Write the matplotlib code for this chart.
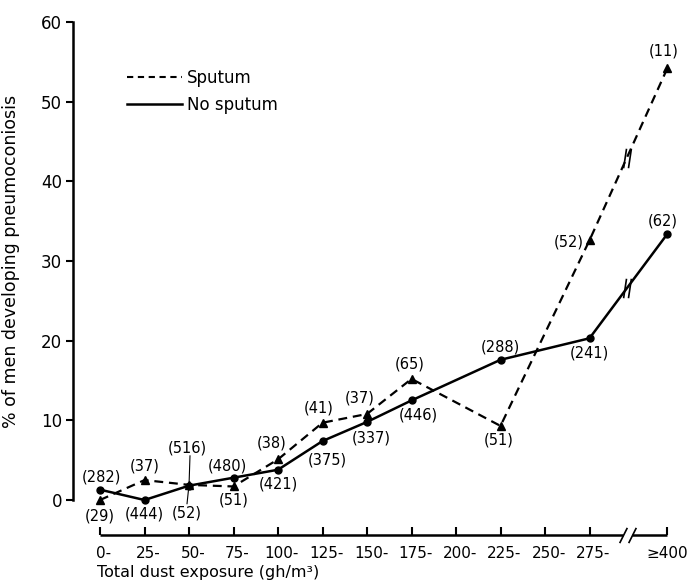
import matplotlib

matplotlib.use("Agg")
import matplotlib.pyplot as plt
import matplotlib.transforms as mtransforms
import numpy as np
from matplotlib.lines import Line2D
from matplotlib.path import Path

# categories of total dust exposure (gh/m3)
categories = ["0-", "25-", "50-", "75-", "100-", "125-", "150-", "175-",
              "200-", "225-", "250-", "275-", "\u2265400"]
# plotting positions; the last group sits past an axis break
positions = [0, 1, 2, 3, 4, 5, 6, 7, 8, 9, 10, 11, 12.75]
break_at = 11.84

# groups that have data points
sputum_idx = [0, 1, 2, 3, 4, 5, 6, 7, 9, 11, 12]
sputum_pct = [0.0, 2.5, 1.9, 1.7, 5.1, 9.7, 10.8, 15.2, 9.3, 32.6, 54.2]
sputum_n = [29, 37, 52, 51, 38, 41, 37, 65, 51, 52, 11]

nosputum_idx = [0, 1, 2, 3, 4, 5, 6, 7, 9, 11, 12]
nosputum_pct = [1.3, 0.0, 1.8, 2.8, 3.8, 7.4, 9.8, 12.5, 17.6, 20.3, 33.4]
nosputum_n = [282, 444, 516, 480, 421, 375, 337, 446, 288, 241, 62]

# label offsets in pixels (dx, dy)
sputum_off = [(0, -16), (0, 14), (-2, -28), (0, -14), (-6, 16), (-4, 15),
              (-7, 16), (-2, 15), (-2, -14), (-21, -2), (-4, 17)]
nosputum_off = [(1, 13), (0, -14), (-2, 38), (-6, 12), (0, -14), (5, -19),
                (4, -16), (7, -15), (0, 13), (0, -15), (-5, 13)]

plt.rcParams["font.family"] = ["DejaVu Sans"]

W, H = 688, 582
fig = plt.figure(figsize=(W / 100, H / 100), dpi=100)
px_left, px_right, px_bottom, px_top = 73, 684, 535, 22
ax = fig.add_axes([px_left / W, 1 - px_bottom / H,
                   (px_right - px_left) / W, (px_bottom - px_top) / H])

unit = 44.5  # px per category
ymin = -(px_bottom - 500) / 7.97
ax.set_xlim(-(100 - px_left) / unit, (px_right - 100) / unit)
ax.set_ylim(ymin, 60)

xs = [positions[i] for i in sputum_idx]
xn = [positions[i] for i in nosputum_idx]

ax.plot(xs, sputum_pct, color="black", lw=1.6, ls=(0, (4, 2.6)),
        marker="^", ms=6, zorder=3)
ax.plot(xn, nosputum_pct, color="black", lw=1.8, ls="-",
        marker="o", ms=5, zorder=3)

# break marks on the lines
slash = Path([(-0.4, -1), (-0.1, 1), (0.1, -1), (0.4, 1)],
             [Path.MOVETO, Path.LINETO, Path.MOVETO, Path.LINETO])
for xx, yy in ((xs, sputum_pct), (xn, nosputum_pct)):
    yb = np.interp(break_at, xx, yy)
    ax.plot([break_at], [yb], marker=slash, ms=14, mew=1.2, color="black",
            ls="none", zorder=4)

for x, y, n, (dx, dy) in zip(xs, sputum_pct, sputum_n, sputum_off):
    ax.annotate(f"({n})", (x, y), xytext=(dx, dy), textcoords="offset pixels",
                ha="center", va="center", fontsize=10.5)
for x, y, n, (dx, dy) in zip(xn, nosputum_pct, nosputum_n, nosputum_off):
    ax.annotate(f"({n})", (x, y), xytext=(dx, dy), textcoords="offset pixels",
                ha="center", va="center", fontsize=10.5)

# leader lines for the crowded labels at 50-
ax.annotate("", (xn[2], nosputum_pct[2]), xytext=(1, 30),
            textcoords="offset pixels",
            arrowprops=dict(arrowstyle="-", lw=0.8, color="black",
                            shrinkA=0, shrinkB=2))
ax.annotate("", (xs[2], sputum_pct[2]), xytext=(-2, -19),
            textcoords="offset pixels",
            arrowprops=dict(arrowstyle="-", lw=0.8, color="black",
                            shrinkA=0, shrinkB=3))

# axes styling
for side in ("top", "right"):
    ax.spines[side].set_visible(False)
ax.spines["left"].set_bounds(0, 60)
ax.spines["left"].set_linewidth(1.8)
ax.spines["bottom"].set_visible(False)
ax.set_yticks(range(0, 61, 10))
ax.tick_params(axis="y", direction="out", length=5, width=1.5, labelsize=12,
               pad=3)
ax.set_xticks(positions)
ax.set_xticklabels(categories)
ax.tick_params(axis="x", direction="in", length=6, width=1.5, labelsize=11,
               pad=8)
shift = mtransforms.ScaledTranslation(4 / 100, 0, fig.dpi_scale_trans)
for lab in ax.get_xticklabels()[:-1]:
    lab.set_transform(lab.get_transform() + shift)

# x axis line with a break
y_ax = ymin
ax.plot([0, break_at - 0.08], [y_ax, y_ax], color="black", lw=1.8,
        clip_on=False, solid_capstyle="butt")
ax.plot([break_at + 0.12, positions[-1]], [y_ax, y_ax], color="black",
        lw=1.8, clip_on=False, solid_capstyle="butt")
for off in (-0.08, 0.12):
    ax.plot([break_at + off], [y_ax], marker=Path([(-0.5, -1), (0.5, 1)]),
            ms=11, mew=1.2, color="black", clip_on=False)

fig.text(97 / W, 1 - 573 / H, "Total dust exposure (gh/m\u00b3)",
         fontsize=11.5, ha="left", va="center")
ax.set_ylabel("% of men developing pneumoconiosis", fontsize=12.5)
ax.yaxis.set_label_coords(-(px_left - 20) / (px_right - px_left),
                          (30 - ymin) / (60 - ymin))

handles = [Line2D([], [], color="black", lw=1.5, ls=(0, (3, 2.2))),
           Line2D([], [], color="black", lw=1.8)]
ax.legend(handles, ["Sputum", "No sputum"], loc="upper left",
          bbox_to_anchor=(0.064, 0.937), frameon=False, fontsize=12,
          handlelength=3.3, handletextpad=0.3, labelspacing=0.5)

fig.savefig("out.png", dpi=100, facecolor="white")
